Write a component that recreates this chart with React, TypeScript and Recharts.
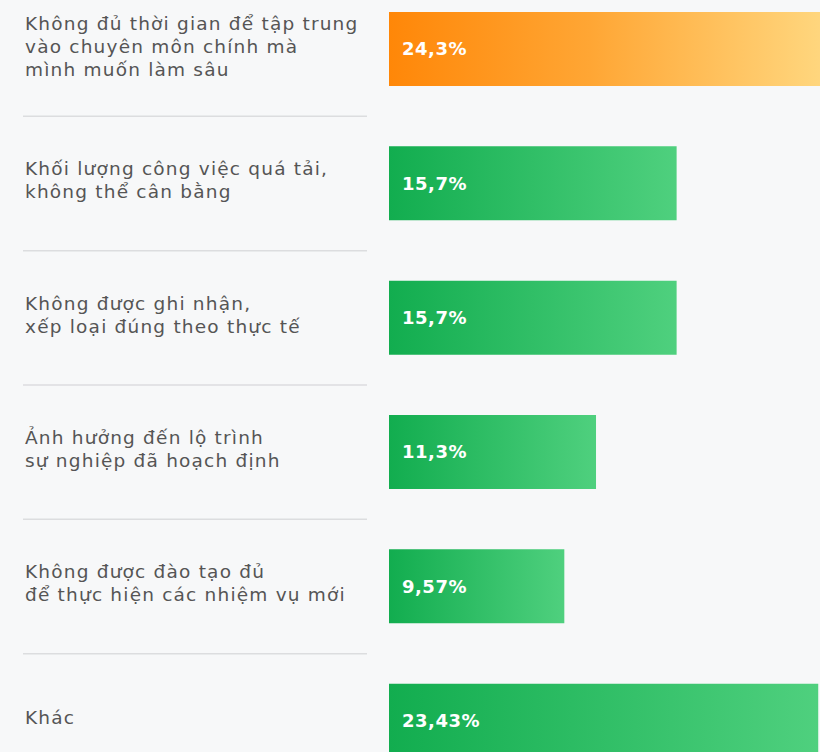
import React from "react";
import { BarChart, Bar, XAxis, YAxis, Cell, LabelList } from "recharts";

const categories: string[][] = [
  ["Không đủ thời gian để tập trung", "vào chuyên môn chính mà", "mình muốn làm sâu"],
  ["Khối lượng công việc quá tải,", "không thể cân bằng"],
  ["Không được ghi nhận,", "xếp loại đúng theo thực tế"],
  ["Ảnh hưởng đến lộ trình", "sự nghiệp đã hoạch định"],
  ["Không được đào tạo đủ", "để thực hiện các nhiệm vụ mới"],
  ["Khác"],
];
const values: number[] = [24.3, 15.7, 15.7, 11.3, 9.57, 23.43];
const highlight: boolean[] = [true, false, false, false, false, false];

const data = categories.map((lines, i) => ({
  key: String(i),
  lines,
  value: values[i],
  highlight: highlight[i],
}));

const CHART_W = 847;
const CHART_H = 806;
const BAND = CHART_H / categories.length;
const FONT = "'DejaVu Sans', 'Open Sans', sans-serif";

const LabelTick = (props: any) => {
  const { y, payload } = props;
  const idx = Number(payload.value);
  const lines = categories[idx] || [];
  const lh = 23;
  const startY = y - 3 - ((lines.length - 1) * lh) / 2;
  return (
    <g>
      <text fontFamily={FONT} fontSize={18.5} letterSpacing={1.2} fill="#555555" textAnchor="start">
        {lines.map((l, i) => (
          <tspan key={i} x={25} y={startY + i * lh} dy="0.35em">
            {l}
          </tspan>
        ))}
      </text>
      {idx < categories.length - 1 && (
        <line x1={23} x2={367} y1={y + BAND / 2} y2={y + BAND / 2} stroke="#dcdddf" strokeWidth={1.5} />
      )}
    </g>
  );
};

const fmt = (v: any) => String(v).replace(".", ",") + "%";

export default function App() {
  return (
    <div
      style={{
        position: "fixed",
        left: 0,
        top: 0,
        width: 820,
        height: 752,
        overflow: "hidden",
        background: "#f7f8f9",
      }}
    >
      <div style={{ position: "absolute", left: 0, top: -18 }}>
        <BarChart
          width={CHART_W}
          height={CHART_H}
          data={data}
          layout="vertical"
          margin={{ top: 0, right: 0, bottom: 0, left: 0 }}
          barCategoryGap={(BAND - 74) / 2}
        >
          <defs>
            <linearGradient id="gOrange" x1="0" y1="0" x2="1" y2="0">
              <stop offset="0%" stopColor="#ff8708" />
              <stop offset="45%" stopColor="#ffa634" />
              <stop offset="100%" stopColor="#ffd982" />
            </linearGradient>
            <linearGradient id="gGreen" x1="0" y1="0" x2="1" y2="0">
              <stop offset="0%" stopColor="#12ad4f" />
              <stop offset="100%" stopColor="#4fd07e" />
            </linearGradient>
          </defs>
          <XAxis type="number" domain={[0, 25]} hide />
          <YAxis
            type="category"
            dataKey="key"
            width={389}
            axisLine={false}
            tickLine={false}
            tick={<LabelTick />}
            interval={0}
          />
          <Bar dataKey="value" isAnimationActive={false} barSize={74}>
            {data.map((d, i) => (
              <Cell key={i} fill={d.highlight ? "url(#gOrange)" : "url(#gGreen)"} />
            ))}
            <LabelList
              dataKey="value"
              position="insideLeft"
              offset={13}
              formatter={fmt}
              fill="#ffffff"
              fontFamily={FONT}
              fontWeight={700}
              fontSize={18}
              letterSpacing={0.5}
            />
          </Bar>
        </BarChart>
      </div>
    </div>
  );
}
